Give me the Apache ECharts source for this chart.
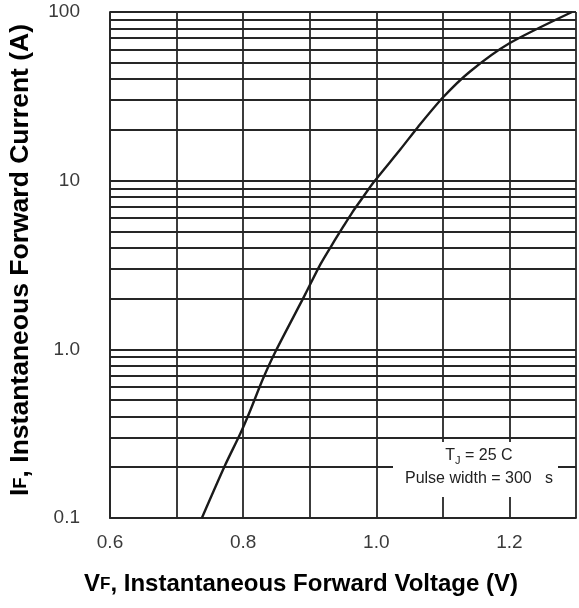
<!DOCTYPE html>
<html>
<head>
<meta charset="utf-8">
<script src="https://cdn.jsdelivr.net/npm/echarts@6/dist/echarts.min.js"></script>
<style>html,body{margin:0;padding:0;background:#fff;}#chart{width:579px;height:608px;}</style>
</head>
<body>
<div id="chart"></div>
<script>
// Forward voltage (V) and forward current (A)
const voltage = [0.738, 0.773, 0.796, 0.811, 0.829, 0.849, 0.893, 0.916, 0.937, 0.951, 0.964, 0.977, 0.996, 1.036, 1.063, 1.100, 1.140, 1.200, 1.294];
const current = [0.1, 0.206, 0.318, 0.437, 0.658, 0.977, 2.11, 3.19, 4.39, 5.39, 6.49, 7.68, 9.78, 15.3, 20.9, 31.1, 44.1, 65.2, 100];
// Tick labels
const xTickLabels = ['0.6', '0.8', '1.0', '1.2'];
const yTickLabels = ['0.1', '1.0', '10', '100'];
// Minor log grid lines (2..9 in each decade)
const minorGridValues = [0.2,0.3,0.4,0.5,0.6,0.7,0.8,0.9, 2,3,4,5,6,7,8,9, 20,30,40,50,60,70,80,90];

const gridColor = '#262626';
const chart = echarts.init(document.getElementById('chart'));
const labelFont = 'Arial, "Liberation Sans", sans-serif';

chart.setOption({
  animation: false,
  backgroundColor: '#fff',
  grid: { left: 110, top: 12, width: 471, height: 506, containLabel: false },
  xAxis: {
    type: 'value', min: 0.6, max: 1.3, interval: 0.1,
    axisLine: { show: true, lineStyle: { color: gridColor, width: 1.8 } },
    axisTick: { show: false },
    splitLine: { show: true, lineStyle: { color: gridColor, width: 1.8 } },
    axisLabel: {
      margin: 15, color: '#3a3a3a', fontSize: 19, fontFamily: labelFont,
      formatter: function (v) {
        const s = v.toFixed(1);
        return xTickLabels.indexOf(s) >= 0 ? s : '';
      }
    }
  },
  yAxis: {
    type: 'log', logBase: 10, min: 0.1, max: 100,
    axisLine: { show: true, lineStyle: { color: gridColor, width: 1.8 } },
    axisTick: { show: false },
    minorTick: { show: false },
    splitLine: { show: true, lineStyle: { color: gridColor, width: 1.8 } },
    axisLabel: {
      margin: 30, color: '#3a3a3a', fontSize: 19, fontFamily: labelFont,
      formatter: function (v) {
        const s = v >= 10 ? String(Math.round(v)) : v.toFixed(1);
        return yTickLabels.indexOf(s) >= 0 ? s : '';
      }
    }
  },
  series: [{
    type: 'line',
    data: voltage.map((v, i) => [v, current[i]]),
    smooth: 0.25,
    showSymbol: false,
    lineStyle: { color: '#1a1a1a', width: 2.4, join: 'round' },
    z: 5,
    markLine: {
      silent: true, symbol: 'none', animation: false,
      label: { show: false },
      lineStyle: { color: gridColor, width: 1.8, type: 'solid' },
      data: minorGridValues.map(v => ({ yAxis: v }))
    }
  }],
  graphic: [
    { type: 'rect', z: 100, shape: { x: 393, y: 442, width: 165, height: 55 }, style: { fill: '#fff' } },
    { type: 'text', z: 101, x: 479, y: 456,
      style: { text: '{a|T}{s|J}{a| = 25 C}', align: 'center', verticalAlign: 'middle',
        rich: { a: { fontSize: 16, fontFamily: labelFont, fill: '#222' },
                s: { fontSize: 11, fontFamily: labelFont, fill: '#222', padding: [9, 0, 0, 0] } } } },
    { type: 'text', z: 101, x: 479, y: 479,
      style: { text: 'Pulse width = 300   s', align: 'center', verticalAlign: 'middle',
        fontSize: 16, fontFamily: labelFont, fill: '#222' } },
    { type: 'text', x: 301, y: 584,
      style: { text: '{a|V}{b|F}{a|, Instantaneous Forward Voltage (V)}', align: 'center', verticalAlign: 'middle',
        rich: { a: { fontSize: 24, fontWeight: 'bold', fontFamily: labelFont, fill: '#000' },
                b: { fontSize: 17, fontWeight: 'bold', fontFamily: labelFont, fill: '#000' } } } },
    { type: 'text', x: 21, y: 260, rotation: Math.PI / 2,
      style: { text: '{a|I}{b|F}{a|, Instantaneous Forward Current (A)}', align: 'center', verticalAlign: 'middle',
        rich: { a: { fontSize: 26.5, fontWeight: 'bold', fontFamily: labelFont, fill: '#000' },
                b: { fontSize: 18.5, fontWeight: 'bold', fontFamily: labelFont, fill: '#000' } } } }
  ]
});
</script>
</body>
</html>
